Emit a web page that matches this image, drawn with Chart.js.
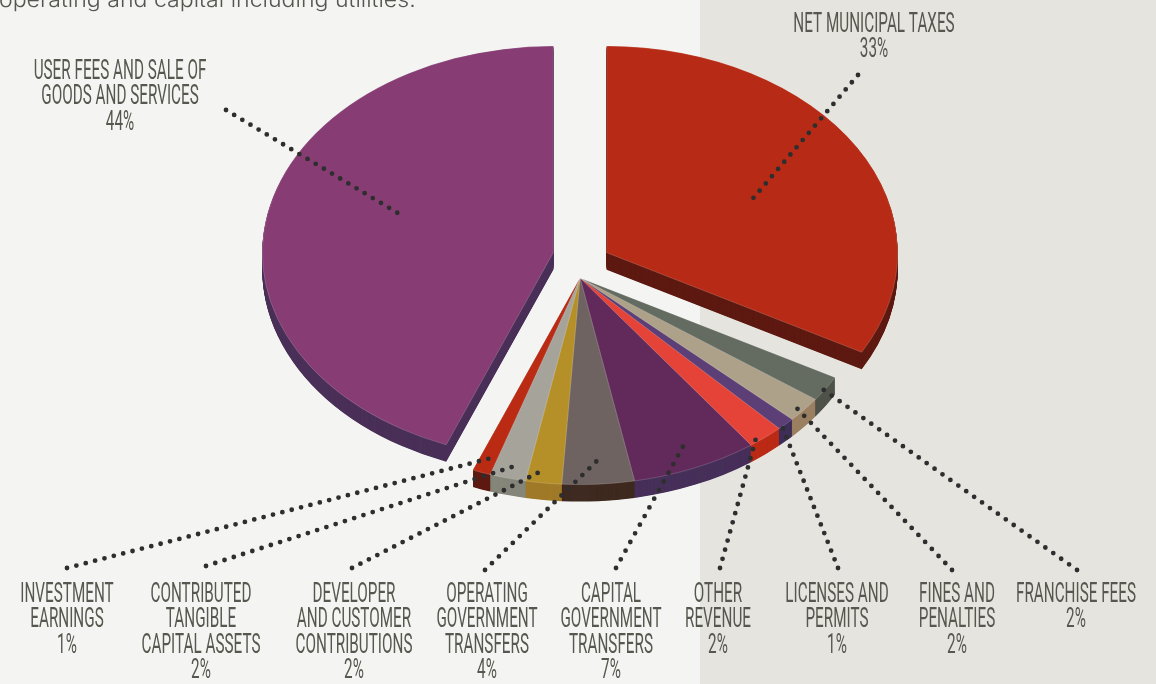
<!DOCTYPE html>
<html>
<head>
<meta charset="utf-8">
<style>
  html, body { margin: 0; padding: 0; overflow: hidden; }
  body { width: 1156px; height: 684px; background: linear-gradient(90deg, #f4f4f2 700px, #e6e4df 700px); }
  #wrap { position: relative; width: 1156px; height: 684px; }
  canvas { display: block; }
</style>
</head>
<body>
<div id="wrap"><canvas id="revenue" width="1156" height="684"></canvas></div>
<script src="https://cdn.jsdelivr.net/npm/chart.js@4/dist/chart.umd.min.js"></script>
<script>
// data, clockwise from twelve o'clock
var categories = ['NET MUNICIPAL TAXES', 'FRANCHISE FEES', 'FINES AND|PENALTIES', 'LICENSES AND|PERMITS',
  'OTHER|REVENUE', 'CAPITAL|GOVERNMENT|TRANSFERS', 'OPERATING|GOVERNMENT|TRANSFERS',
  'DEVELOPER|AND CUSTOMER|CONTRIBUTIONS', 'CONTRIBUTED|TANGIBLE|CAPITAL ASSETS', 'INVESTMENT|EARNINGS',
  'USER FEES AND SALE OF|GOODS AND SERVICES'];
var shares = [33, 2, 2, 1, 2, 7, 4, 2, 2, 1, 44];

var topColors = ['#b72b16', '#646b60', '#ada18a', '#5b3f76', '#e54337', '#622a5b', '#6e6360', '#b58f28', '#a6a49a', '#bb2b14', '#873d74'];
var sideColors = ['#5e1a12', '#4e5249', '#9a8060', '#3f2e58', '#bb2b16', '#47305a', '#3f2a20', '#a07a28', '#85867a', '#5e1a12', '#4a3058'];

// how the flat pie is tipped over and pulled apart
var squash = 0.71, depth = 17, hubX = 580, hubY = 278, pieRadius = 291;
var pullX = [26.7, 0, 0, 0, 0, 0, 0, 0, 0, 0, -26.7];
var pullY = [-25.3, 0, 0, 0, 0, 0, 0, 0, 0, 0, -25.3];

// label placement: centre x, first baseline, outer end of the leader
var labelX = [874, 1076, 957, 837, 718, 611, 487, 354, 201, 67, 120];
var labelY = [32, 602, 602, 602, 602, 602, 602, 602, 602, 602, 79];
var leaderX = [858, 1077, 952, 838, 720, 616, 485, 352, 206, 67, 226];
var leaderY = [75, 570, 570, 568, 568, 568, 570, 568, 566, 568, 110];
// leader inner end: where across the slice, how far out along the radius
var leaderAcross = [0.524, 0.5, 0.5, 0.5, 0.5, 0.5, 0.5, 0.5, 0.5, 0.5, 0.557];
var leaderReach = [0.57, 0.96, 0.94, 0.97, 0.96, 0.89, 0.89, 0.93, 0.945, 0.93, 0.57];

var lineGap = 25.4, textStretch = 0.555;

var tiltPlugin = {
  id: 'tilt',
  afterDatasetsUpdate: function (chart) {
    chart.getDatasetMeta(0).data.forEach(function (arc, i) {
      arc.x += pullX[i];
      arc.y += pullY[i] / squash;
    });
  },
  beforeDatasetsDraw: function (chart) {
    var ctx = chart.ctx, area = chart.chartArea;
    var cy = (area.top + area.bottom) / 2;
    ctx.save();
    ctx.translate(hubX - (area.left + area.right) / 2, hubY - cy * squash);
    ctx.scale(1, squash);
    // walls: the same arcs stacked downwards in the darker colours
    var arcs = chart.getDatasetMeta(0).data;
    for (var d = depth; d > 0; d -= 0.5) {
      ctx.save();
      ctx.translate(0, d / squash);
      arcs.forEach(function (arc, i) {
        var keep = arc.options;
        var wall = Object.create(keep);
        Object.defineProperty(wall, 'backgroundColor', { value: sideColors[i] });
        Object.defineProperty(wall, 'borderWidth', { value: 0 });
        arc.options = wall;
        arc.draw(ctx);
        arc.options = keep;
      });
      ctx.restore();
    }
  },
  afterDatasetsDraw: function (chart) {
    chart.ctx.restore();
  }
};

var labelPlugin = {
  id: 'labels',
  afterDraw: function (chart) {
    var ctx = chart.ctx, area = chart.chartArea;
    var cx = (area.left + area.right) / 2, cy = (area.top + area.bottom) / 2;
    ctx.save();

    ctx.save();
    ctx.font = '300 21px Inter';
    ctx.fillStyle = '#555650';
    ctx.textAlign = 'left';
    ctx.textBaseline = 'alphabetic';
    ctx.translate(-1, 7);
    ctx.scale(1.1, 1);
    ctx.fillText('operating and capital including utilities.', 0, 0);
    ctx.restore();

    // dotted leaders, inner end taken from the arc itself
    ctx.strokeStyle = '#2e2e2e';
    ctx.lineWidth = 4.8;
    ctx.lineCap = 'round';
    chart.getDatasetMeta(0).data.forEach(function (arc, i) {
      var a = arc.startAngle + (arc.endAngle - arc.startAngle) * leaderAcross[i];
      var r = arc.outerRadius * leaderReach[i];
      var px = arc.x + Math.cos(a) * r - cx + hubX;
      var py = (arc.y + Math.sin(a) * r - cy) * squash + hubY;
      // fit the dot spacing so both ends land on a dot
      var len = Math.hypot(px - leaderX[i], py - leaderY[i]);
      ctx.setLineDash([0, len / Math.round(len / 9.6)]);
      ctx.beginPath();
      ctx.moveTo(leaderX[i], leaderY[i]);
      ctx.lineTo(px, py);
      ctx.stroke();
    });
    ctx.setLineDash([]);

    ctx.font = '400 27.5px Roboto';
    ctx.fillStyle = '#56574e';
    ctx.textAlign = 'center';
    categories.forEach(function (name, i) {
      var lines = name.split('|').concat(shares[i] + '%');
      lines.forEach(function (line, n) {
        ctx.save();
        ctx.translate(labelX[i], labelY[i] + n * lineGap);
        ctx.scale(textStretch, 1);
        ctx.fillText(line, 0, 0);
        ctx.restore();
      });
    });
    ctx.restore();
  }
};

new Chart(document.getElementById('revenue').getContext('2d'), {
  type: 'pie',
  data: {
    labels: categories.map(function (c) { return c.replace(/\|/g, ' '); }),
    datasets: [{
      data: shares,
      backgroundColor: topColors,
      borderColor: 'rgba(255,255,255,0.28)',
      borderWidth: 0.7,
      radius: pieRadius,
      clip: false
    }]
  },
  options: {
    responsive: false,
    animation: false,
    layout: { padding: 0 },
    plugins: { legend: { display: false }, tooltip: { enabled: false } }
  },
  plugins: [tiltPlugin, labelPlugin]
});
</script>
</body>
</html>
